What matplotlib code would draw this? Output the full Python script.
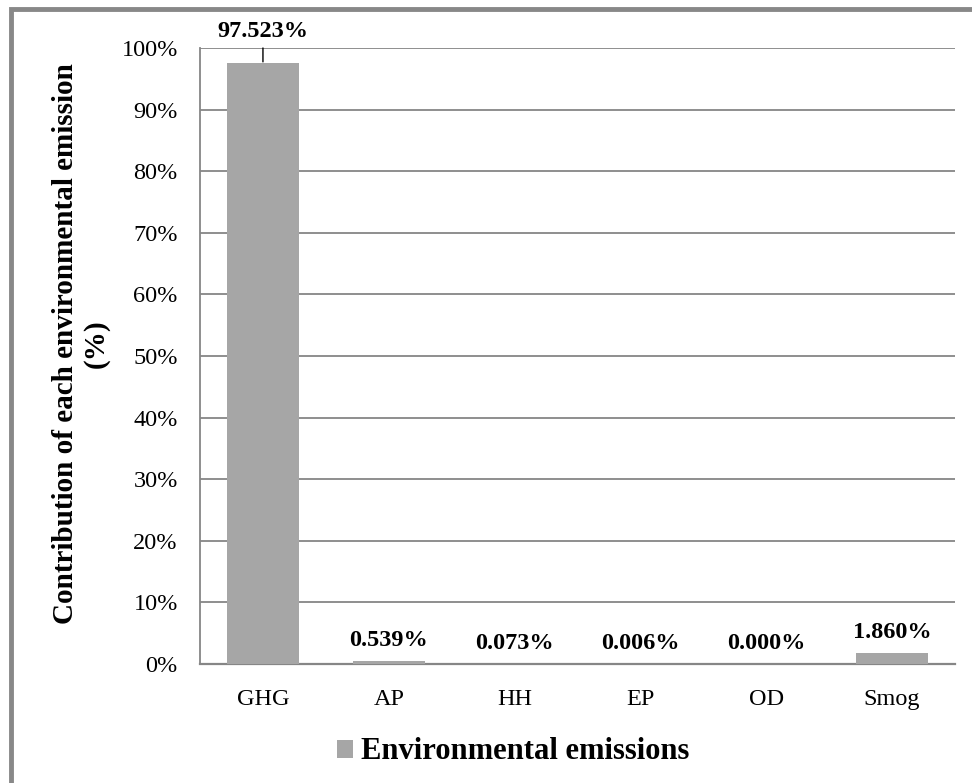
import matplotlib.pyplot as plt
from matplotlib.patches import Rectangle
from matplotlib.ticker import FuncFormatter

categorias = ["GHG", "AP", "HH", "EP", "OD", "Smog"]
valores = [97.523, 0.539, 0.073, 0.006, 0.000, 1.860]
etiquetas = ["97.523%", "0.539%", "0.073%", "0.006%", "0.000%", "1.860%"]
yticks = list(range(0, 101, 10))

plt.rcParams["font.family"] = ["Liberation Serif", "DejaVu Serif"]

fig = plt.figure(figsize=(9.72, 7.83), dpi=100)
ax = fig.add_axes([0.2058, 0.152, 0.7767, 0.7867])

gris_barra = "#a6a6a6"
gris_linea = "#868686"

x = range(len(categorias))
ax.bar(x, valores, width=0.57, color=gris_barra, zorder=3, label="Environmental emissions")

for i, (v, t) in enumerate(zip(valores, etiquetas)):
    if i == 0:
        # etiqueta alta con linea guia
        ax.annotate(t, xy=(i, v), xytext=(0, 15), textcoords="offset points",
                    ha="center", va="bottom", fontsize=17.5, fontweight="bold",
                    arrowprops=dict(arrowstyle="-", color="black", lw=1,
                                    shrinkA=2, shrinkB=1))
    else:
        ax.annotate(t, xy=(i, v), xytext=(0, 7), textcoords="offset points",
                    ha="center", va="bottom", fontsize=17.5, fontweight="bold")

ax.set_xlim(-0.5, len(categorias) - 0.5)
ax.set_ylim(0, 100)
ax.set_yticks(yticks)
ax.yaxis.set_major_formatter(FuncFormatter(lambda v, p: f"{v:.0f}%"))
ax.set_xticks(list(x))
ax.set_xticklabels(categorias)
ax.tick_params(axis="both", length=0, labelsize=17.5)
ax.tick_params(axis="y", pad=16)
ax.tick_params(axis="x", pad=18)
ax.grid(axis="y", color=gris_linea, lw=1.3, zorder=0)

for s in ["top", "right"]:
    ax.spines[s].set_visible(False)
ax.spines["left"].set_color(gris_linea)
ax.spines["left"].set_linewidth(1.3)
ax.spines["bottom"].set_color(gris_linea)
ax.spines["bottom"].set_linewidth(1.6)

fig.text(81 / 972, 1 - 344 / 783, "Contribution of each environmental emission\n(%)",
         rotation=90, ha="center", va="center", multialignment="center",
         fontsize=21, fontweight="bold", linespacing=1.15)

fig.legend(loc="center", bbox_to_anchor=(0.528, 0.0396), frameon=False,
           prop=dict(size=22, weight="bold"), handlelength=0.52, handleheight=0.52,
           handletextpad=0.25)

# marco gris de la figura
fig.patches.append(Rectangle((11 / 972, -0.05), 1.1, 1 - 9.5 / 783 + 0.05,
                             transform=fig.transFigure, fill=False,
                             edgecolor="#888888", lw=3.5))

fig.savefig("out.png", dpi=100)
